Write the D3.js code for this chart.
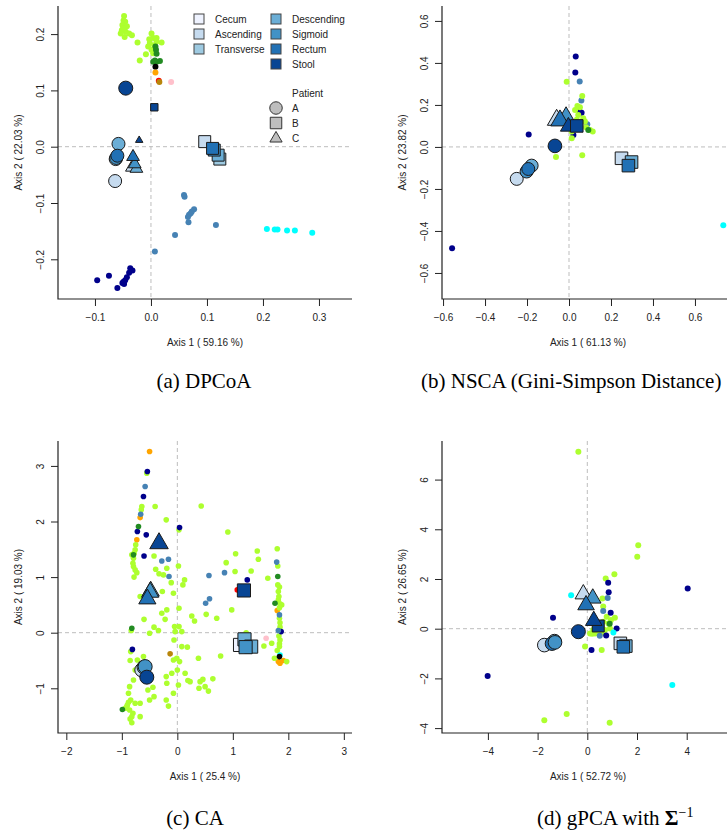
<!DOCTYPE html>
<html>
<head>
<meta charset="utf-8">
<title></title>
<style>
body { margin: 0; background: #fff; }
text { font-family: "Liberation Sans", Arial, sans-serif; font-size: 10px; fill: #222; }
.caption { font-family: "Liberation Serif", "Times New Roman", serif; font-size: 21px; fill: #000; }
.tick line { stroke: #222; }
</style>
</head>
<body>
<script src="https://d3js.org/d3.v7.min.js"></script>
<script>

// taxa colour groups (phylum)
var phylumCodes  = ["g", "n", "s", "c", "f", "k", "o", "r", "p", "d"];
var phylumColors = ["#ADFF2F", "#00008B", "#4682B4", "#00FFFF", "#228B22", "#000000", "#FFA500", "#FF0000", "#FFC0CB", "#B8860B"];

var sites = ["Cecum", "Ascending", "Transverse", "Descending", "Sigmoid", "Rectum", "Stool"];
var siteColors = ["#EFF3FF", "#C6DBEF", "#9ECAE1", "#6BAED6", "#4292C6", "#2171B5", "#084594"];
var patients = ["A", "B", "C"];

// (a) DPCoA : taxa [axis1, axis2, phylum]
var dpcoaTaxa = [
  [-0.048,0.232,"g"],[-0.049,0.224,"g"],[-0.046,0.222,"g"],[-0.051,0.216,"g"],[-0.043,0.214,"g"],
  [-0.052,0.207,"g"],[-0.045,0.204,"g"],[-0.054,0.201,"g"],[-0.039,0.201,"g"],[-0.034,0.198,"g"],
  [-0.024,0.185,"g"],[-0.020,0.153,"g"],[-0.050,0.210,"g"],[-0.047,0.195,"g"],
  [0.001,0.201,"g"],[0.004,0.193,"g"],[0.010,0.193,"g"],[-0.003,0.191,"g"],[0.010,0.187,"g"],
  [0.019,0.185,"g"],[-0.002,0.184,"g"],[-0.005,0.178,"g"],[0.001,0.172,"g"],[0.004,0.166,"g"],
  [-0.009,0.164,"g"],[0.006,0.180,"g"],
  [0.008,0.178,"f"],[0.009,0.172,"f"],[0.010,0.165,"f"],[0.004,0.151,"f"],[0.010,0.151,"f"],
  [0.016,0.152,"f"],[0.007,0.153,"f"],
  [0.008,0.142,"k"],[0.008,0.132,"o"],[0.014,0.117,"r"],[0.015,0.115,"d"],[0.036,0.115,"p"],
  [0.059,-0.086,"s"],[0.060,-0.089,"s"],[0.077,-0.111,"s"],[0.073,-0.115,"s"],[0.071,-0.118,"s"],
  [0.068,-0.121,"s"],[0.066,-0.125,"s"],[0.067,-0.134,"s"],[0.116,-0.139,"s"],[0.043,-0.157,"s"],
  [0.007,-0.186,"s"],
  [0.207,-0.146,"c"],[0.221,-0.147,"c"],[0.226,-0.147,"c"],[0.243,-0.149,"c"],[0.257,-0.149,"c"],
  [0.288,-0.153,"c"],
  [-0.096,-0.237,"n"],[-0.075,-0.229,"n"],[-0.060,-0.251,"n"],[-0.051,-0.242,"n"],[-0.046,-0.237,"n"],
  [-0.043,-0.232,"n"],[-0.039,-0.224,"n"],[-0.037,-0.216,"n"],[-0.033,-0.220,"n"],[-0.048,-0.244,"n"],
  [-0.049,-0.240,"n"]
];
// samples [axis1, axis2, site, patient, weight]
var dpcoaSamples = [
  [-0.063,-0.022,"Transverse","A",1],[-0.064,-0.061,"Ascending","A",1],[-0.058,0.005,"Descending","A",1],
  [-0.062,-0.020,"Sigmoid","A",1],[-0.060,-0.016,"Rectum","A",1],[-0.045,0.104,"Stool","A",1.08],
  [-0.034,-0.036,"Ascending","C",1],[-0.026,-0.038,"Descending","C",1],[-0.029,-0.030,"Sigmoid","C",1],
  [-0.032,-0.017,"Rectum","C",1],[-0.021,0.012,"Stool","C",0.58],
  [0.096,0.009,"Ascending","B",1],[0.123,-0.022,"Transverse","B",1],[0.120,-0.015,"Descending","B",1],
  [0.113,-0.006,"Sigmoid","B",1],[0.110,-0.003,"Rectum","B",1],[0.006,0.070,"Stool","B",0.62]
];

// (b) NSCA
var nscaTaxa = [
  [0.032,0.430,"n"],[0.030,0.354,"n"],[-0.192,0.059,"n"],[-0.557,-0.482,"n"],[0.049,0.173,"n"],
  [0.060,0.163,"n"],[0.021,0.057,"n"],
  [0.051,0.311,"s"],[0.059,0.221,"s"],[0.087,0.108,"s"],
  [-0.011,0.310,"g"],[0.063,0.243,"g"],[0.040,0.195,"g"],[0.052,0.189,"g"],[0.029,0.176,"g"],
  [0.044,0.152,"g"],[0.068,0.137,"g"],[0.076,0.121,"g"],[0.081,0.094,"g"],[0.113,0.073,"g"],
  [0.013,0.041,"g"],[-0.062,-0.048,"g"],[0.063,-0.040,"g"],[0.037,0.129,"g"],[0.021,0.097,"g"],
  [0.013,0.073,"g"],[0.100,0.081,"g"],[0.055,0.110,"g"],[0.030,0.085,"g"],
  [0.092,0.081,"f"],[0.735,-0.373,"c"]
];
var nscaSamples = [
  [-0.249,-0.152,"Ascending","A",1],[-0.178,-0.089,"Descending","A",1],[-0.202,-0.117,"Sigmoid","A",1],
  [-0.194,-0.105,"Rectum","A",1],[-0.067,0.005,"Stool","A",1.05],
  [-0.059,0.132,"Ascending","C",1.45],[-0.014,0.144,"Sigmoid","C",1.45],[-0.043,0.129,"Rectum","C",1.45],
  [-0.003,0.100,"Stool","C",1.25],
  [0.250,-0.054,"Ascending","B",1.05],[0.298,-0.072,"Descending","B",1.05],[0.283,-0.089,"Rectum","B",1.05],
  [0.037,0.100,"Stool","B",1.05]
];

// (c) CA
var caTaxa = [
  [-0.50,3.26,"o"],[-0.67,2.07,"o"],[-0.73,1.67,"o"],[1.80,0.40,"o"],[1.82,-0.52,"o"],[1.91,-0.50,"o"],[1.85,-0.55,"o"],
  [-0.55,2.87,"g"],[-0.40,2.27,"g"],[-0.64,2.27,"g"],[-0.65,2.21,"g"],[-0.20,2.03,"g"],[0.03,1.85,"g"],
  [-0.75,1.58,"g"],[-0.76,1.49,"g"],[-0.78,1.43,"g"],[-0.82,1.40,"g"],[-0.79,1.34,"g"],[-0.80,1.25,"g"],
  [-0.79,1.19,"g"],[-0.76,1.13,"g"],[-0.73,1.08,"g"],[-0.78,1.00,"g"],[-0.42,1.38,"g"],[-0.39,1.14,"g"],
  [-0.33,1.06,"g"],[-0.25,1.04,"g"],[-0.19,1.16,"g"],[-0.11,0.90,"g"],[0.02,1.20,"g"],[0.13,0.95,"g"],
  [0.10,0.86,"g"],[-0.07,0.71,"g"],[-0.27,0.74,"g"],[-0.28,0.35,"g"],[-0.19,0.41,"g"],[-0.22,0.24,"g"],
  [-0.60,0.24,"g"],[-0.42,0.10,"g"],[-0.34,0.04,"g"],[-0.50,-0.01,"g"],[-0.05,0.11,"g"],[-0.04,0.02,"g"],
  [0.08,0.02,"g"],[-0.06,-0.13,"g"],[0.03,0.11,"g"],[0.08,-0.25,"g"],[0.18,-0.26,"g"],[0.26,0.30,"g"],
  [0.31,0.21,"g"],[-0.67,0.65,"g"],[-0.83,0.04,"g"],[-0.84,-0.34,"g"],[0.03,0.44,"g"],
  [-0.85,-0.50,"g"],[-0.72,-0.49,"g"],[-0.61,-0.43,"g"],[-0.52,-0.60,"g"],[-0.76,-0.67,"g"],[-0.79,-0.85,"g"],
  [-0.86,-0.97,"g"],[-0.88,-1.09,"g"],[-0.84,-1.21,"g"],[-0.91,-1.33,"g"],[-0.86,-1.39,"g"],[-0.82,-1.51,"g"],
  [-0.82,-1.62,"g"],[-0.94,-1.36,"g"],[-0.76,-1.27,"g"],[-0.67,-1.27,"g"],[-0.67,-1.51,"g"],[-0.50,-1.21,"g"],
  [-0.42,-1.15,"g"],[-0.53,-1.03,"g"],[-0.44,-0.98,"g"],[-0.20,-0.79,"g"],[-0.10,-0.73,"g"],[-0.07,-0.49,"g"],
  [-0.01,-0.46,"g"],[0.04,-0.52,"g"],[-0.19,-0.91,"g"],[-0.07,-1.09,"g"],[-0.20,-1.21,"g"],[-0.16,-1.32,"g"],
  [0.00,-0.67,"g"],[0.02,-0.94,"g"],[0.14,-0.73,"g"],[0.19,-0.86,"g"],[0.38,-0.46,"g"],[0.39,-1.00,"g"],
  [-0.88,-1.25,"g"],[-0.90,-1.30,"g"],[-0.80,-1.45,"g"],[-0.85,-1.55,"g"],
  [0.43,2.28,"g"],[0.91,1.81,"g"],[1.05,1.42,"g"],[1.44,1.47,"g"],[1.46,1.32,"g"],[0.88,1.26,"g"],
  [1.04,1.10,"g"],[1.33,1.11,"g"],[1.63,0.98,"g"],[0.98,0.41,"g"],[0.71,0.26,"g"],[0.52,0.33,"g"],
  [1.24,0.00,"g"],[1.56,-0.24,"g"],[1.70,-0.19,"g"],[0.78,-0.42,"g"],[0.64,-0.83,"g"],[0.46,-0.84,"g"],
  [0.41,-0.88,"g"],[0.50,-0.97,"g"],[0.56,-1.05,"g"],[0.23,-0.88,"g"],
  [1.80,1.51,"g"],[1.81,1.20,"g"],[1.81,0.86,"g"],[1.84,0.82,"g"],[1.82,0.74,"g"],[1.82,0.59,"g"],
  [1.85,0.52,"g"],[1.88,0.50,"g"],[1.84,0.26,"g"],[1.85,0.18,"g"],[1.83,-0.06,"g"],[1.85,-0.13,"g"],
  [1.84,-0.20,"g"],[1.80,-0.32,"g"],[1.75,-0.46,"g"],[1.97,-0.52,"g"],[1.83,0.65,"g"],[1.84,0.45,"g"],
  [1.85,0.10,"g"],[1.84,-0.25,"g"],
  [-0.54,2.90,"n"],[-0.61,2.45,"n"],[0.04,1.89,"n"],[-0.72,1.82,"n"],[-0.56,1.76,"n"],[-0.60,1.38,"n"],
  [-0.81,-0.30,"n"],[1.26,0.95,"n"],[1.87,0.02,"n"],
  [-0.58,2.63,"s"],[-0.66,2.13,"s"],[-0.28,1.29,"s"],[-0.16,1.32,"s"],[-0.15,1.01,"s"],[0.57,1.03,"s"],
  [0.85,1.08,"s"],[0.58,0.61,"s"],[0.51,0.53,"s"],[1.79,1.27,"s"],[1.84,0.32,"s"],[1.82,0.04,"s"],
  [-0.70,1.91,"f"],[-0.79,1.40,"f"],[-0.82,0.08,"f"],[-0.99,-1.38,"f"],[1.81,1.01,"f"],[1.76,0.53,"f"],
  [-0.13,-0.38,"d"],[1.08,0.77,"r"],[1.60,-0.10,"p"],[1.85,-0.40,"c"],[1.84,-0.43,"k"]
];
var caSamples = [
  [-0.33,1.62,"Stool","C",1.45],[-0.48,0.76,"Descending","C",1.35],[-0.49,0.74,"Sigmoid","C",1.35],
  [-0.54,0.62,"Rectum","C",1.35],
  [-0.64,-0.67,"Ascending","A",1.08],[-0.60,-0.62,"Descending","A",1.08],[-0.58,-0.61,"Sigmoid","A",1.08],
  [-0.55,-0.80,"Stool","A",1.08],
  [1.20,0.76,"Stool","B",1.1],[1.13,-0.22,"Cecum","B",1.1],[1.21,-0.12,"Descending","B",1.1],
  [1.33,-0.25,"Descending","B",1.1],[1.23,-0.26,"Sigmoid","B",1.1]
];

// (d) gPCA
var gpcaTaxa = [
  [-0.36,7.12,"g"],[2.05,3.36,"g"],[2.01,2.90,"g"],[1.09,2.19,"g"],[0.74,2.02,"g"],[1.11,0.44,"g"],
  [-1.73,-3.68,"g"],[-0.83,-3.43,"g"],[0.90,-3.78,"g"],[-0.09,-0.72,"g"],[0.58,-0.86,"g"],[0.61,1.22,"g"],
  [0.64,0.89,"g"],[0.31,0.28,"g"],[0.44,0.21,"g"],[0.64,0.28,"g"],[0.85,0.21,"g"],[0.24,-0.05,"g"],
  [0.44,-0.12,"g"],[0.71,-0.05,"g"],[0.91,0.01,"g"],[0.11,-0.19,"g"],[0.78,0.48,"g"],[0.31,-0.19,"g"],
  [0.58,0.08,"g"],[0.20,-0.20,"g"],[0.50,-0.20,"g"],[0.65,-0.15,"g"],[0.95,0.35,"g"],
  [0.84,1.85,"n"],[0.86,1.47,"n"],[4.04,1.62,"n"],[-1.38,0.44,"n"],[-4.01,-1.90,"n"],[0.17,-0.86,"n"],
  [0.94,0.64,"n"],[1.18,0.01,"n"],[0.76,-0.27,"n"],
  [0.82,1.24,"s"],[0.50,-0.28,"s"],[0.64,0.71,"s"],
  [-0.65,1.35,"c"],[3.42,-2.27,"c"],[1.05,-0.15,"c"],[0.90,0.20,"f"]
];
var gpcaSamples = [
  [-1.73,-0.66,"Ascending","A",1.05],[-1.32,-0.50,"Descending","A",1.05],[-1.42,-0.60,"Rectum","A",1.05],
  [-1.30,-0.55,"Sigmoid","A",1.05],[-0.36,-0.12,"Stool","A",1.08],
  [1.33,-0.59,"Ascending","B",1.05],[1.55,-0.70,"Descending","B",1.05],[1.45,-0.73,"Rectum","B",1.05],
  [0.44,0.11,"Stool","B",1.0],
  [-0.16,1.42,"Ascending","C",1.3],[0.22,1.25,"Sigmoid","C",1.3],[-0.05,0.98,"Rectum","C",1.3],
  [0.26,0.35,"Stool","C",1.3]
];

var axisTitles = [
  ["Axis 1 ( 59.16 %)", "Axis 2 ( 22.03 %)"],
  ["Axis 1 ( 61.13 %)", "Axis 2 ( 23.82 %)"],
  ["Axis 1 ( 25.4 %)",  "Axis 2 ( 19.03 %)"],
  ["Axis 1 ( 52.72 %)", "Axis 2 ( 26.65 %)"]
];

var width = 727, height = 833;

var svg = d3.select("body").append("svg")
    .attr("width", width)
    .attr("height", height);

var phylumColor = d3.scaleOrdinal().domain(phylumCodes).range(phylumColors);
var siteColor = d3.scaleOrdinal().domain(sites).range(siteColors);

function markerPath(shape, d) {
  if (shape == "A") {
    var r = d / 2;
    return "M" + r + ",0A" + r + "," + r + " 0 1,1 " + (-r) + ",0A" + r + "," + r + " 0 1,1 " + r + ",0Z";
  } else if (shape == "B") {
    var h = d * 0.46;
    return "M" + (-h) + "," + (-h) + "H" + h + "V" + h + "H" + (-h) + "Z";
  } else {
    var s = d * 0.98, th = s * 0.866;
    return "M0," + (-th * 0.62) + "L" + (s / 2) + "," + (th * 0.38) + "L" + (-s / 2) + "," + (th * 0.38) + "Z";
  }
}

var panels = [
  {id: "a", taxa: dpcoaTaxa, samples: dpcoaSamples, box: [58, 352, 6, 299],
   xdom: [-0.166, 0.359], ydom: [-0.2705, 0.2499],
   xticks: [-0.1, 0, 0.1, 0.2, 0.3], yticks: [-0.2, -0.1, 0, 0.1, 0.2], fmt: ".1f", dot: 3},
  {id: "b", taxa: nscaTaxa, samples: nscaSamples, box: [442, 734, 6, 299],
   xdom: [-0.605, 0.786], ydom: [-0.724, 0.671],
   xticks: [-0.6, -0.4, -0.2, 0, 0.2, 0.4, 0.6], yticks: [-0.6, -0.4, -0.2, 0, 0.2, 0.4, 0.6], fmt: ".1f", dot: 3},
  {id: "c", taxa: caTaxa, samples: caSamples, box: [58, 352, 441, 733],
   xdom: [-2.150, 3.147], ydom: [-1.804, 3.448],
   xticks: [-2, -1, 0, 1, 2, 3], yticks: [-1, 0, 1, 2, 3], fmt: "d", dot: 2.8},
  {id: "d", taxa: gpcaTaxa, samples: gpcaSamples, box: [442, 734, 441, 733],
   xdom: [-5.847, 5.903], ydom: [-4.197, 7.553],
   xticks: [-4, -2, 0, 2, 4], yticks: [-4, -2, 0, 2, 4, 6], fmt: "d", dot: 3}
];

panels.forEach(function(p, i) {
  var x = d3.scaleLinear().domain(p.xdom).range([p.box[0], p.box[1]]);
  var y = d3.scaleLinear().domain(p.ydom).range([p.box[3], p.box[2]]);
  var fmt = function(v) { return d3.format(p.fmt)(v).replace("-", "\u2212"); };

  var g = svg.append("g").attr("class", "panel-" + p.id);

  g.append("clipPath").attr("id", "clip-" + p.id)
    .append("rect")
      .attr("x", p.box[0]).attr("y", p.box[2])
      .attr("width", p.box[1] - p.box[0]).attr("height", p.box[3] - p.box[2]);

  // zero reference lines
  g.append("line")
      .attr("x1", x(0)).attr("x2", x(0)).attr("y1", p.box[2]).attr("y2", p.box[3])
      .style("stroke", "#bdbdbd").style("stroke-dasharray", "4,3");
  g.append("line")
      .attr("x1", p.box[0]).attr("x2", p.box[1]).attr("y1", y(0)).attr("y2", y(0))
      .style("stroke", "#bdbdbd").style("stroke-dasharray", "4,3");

  // axes
  var xa = g.append("g")
      .attr("transform", "translate(0," + p.box[3] + ")")
      .call(d3.axisBottom(x).tickValues(p.xticks).tickFormat(fmt).tickSize(7).tickPadding(8));
  xa.select(".domain").remove();

  var ya = g.append("g")
      .attr("transform", "translate(" + p.box[0] + ",0)")
      .call(d3.axisLeft(y).tickValues(p.yticks).tickFormat(fmt).tickSize(7));
  ya.select(".domain").remove();
  ya.selectAll("text")
      .attr("transform", "rotate(-90)")
      .attr("x", 0).attr("y", -18).attr("dy", "0.35em")
      .style("text-anchor", "middle");
  g.selectAll(".tick text").style("font-size", "10px").style("fill", "#222")
      .style("font-family", "'Liberation Sans', Arial, sans-serif");

  g.append("path")
      .attr("d", "M" + p.box[0] + "," + p.box[2] + "V" + p.box[3] + "H" + p.box[1])
      .style("fill", "none").style("stroke", "#222").style("stroke-width", 1.2);

  g.append("text")
      .attr("x", (p.box[0] + p.box[1]) / 2).attr("y", p.box[3] + 47)
      .attr("text-anchor", "middle")
      .text(axisTitles[i][0]);
  g.append("text")
      .attr("transform", "translate(" + (p.box[0] - 40) + "," + ((p.box[2] + p.box[3]) / 2) + ")rotate(-90)")
      .attr("dy", "0.35em")
      .attr("text-anchor", "middle")
      .text(axisTitles[i][1]);

  var marks = g.append("g").attr("clip-path", "url(#clip-" + p.id + ")");

  marks.selectAll("circle.taxon")
      .data(p.taxa)
      .enter().append("circle")
      .attr("class", "taxon")
      .attr("cx", function(d) { return x(d[0]); })
      .attr("cy", function(d) { return y(d[1]); })
      .attr("r", p.dot)
      .style("fill", function(d) { return phylumColor(d[2]); });

  marks.selectAll("path.sample")
      .data(p.samples)
      .enter().append("path")
      .attr("class", "sample")
      .attr("transform", function(d) { return "translate(" + x(d[0]) + "," + y(d[1]) + ")"; })
      .attr("d", function(d) { return markerPath(d[3], 13 * d[4]); })
      .style("fill", function(d) { return siteColor(d[2]); })
      .style("stroke", "#1a1a1a")
      .style("stroke-width", 1);
});

// legend in panel (a)
var legend = svg.append("g").attr("class", "legend");
var legendItems = legend.selectAll("g.site")
    .data(sites)
    .enter().append("g")
    .attr("class", "site")
    .attr("transform", function(d, i) {
      var col = i < 3 ? 0 : 1, row = i < 3 ? i : i - 3;
      return "translate(" + (199 + col * 77) + "," + (19 + row * 15) + ")";
    });
legendItems.append("rect")
    .attr("x", -5).attr("y", -5).attr("width", 10).attr("height", 10)
    .style("fill", function(d) { return siteColor(d); })
    .style("stroke", "#444");
legendItems.append("text")
    .attr("x", 16).attr("dy", "0.35em")
    .text(function(d) { return d; });

legend.append("text")
    .attr("x", 292).attr("y", 93).attr("dy", "0.35em")
    .text("Patient");
var patientItems = legend.selectAll("g.patient")
    .data(patients)
    .enter().append("g")
    .attr("class", "patient")
    .attr("transform", function(d, i) { return "translate(276," + (108 + i * 15) + ")"; });
patientItems.append("path")
    .attr("d", function(d) { return markerPath(d, 12.5); })
    .style("fill", "#BEBEBE")
    .style("stroke", "#333");
patientItems.append("text")
    .attr("x", 16).attr("dy", "0.35em")
    .text(function(d) { return d; });

// sub-figure captions
var captions = [
  {x: 204, y: 388, anchor: "middle", text: "(a) DPCoA"},
  {x: 421, y: 388, anchor: "start", text: "(b) NSCA (Gini-Simpson Distance)"},
  {x: 195, y: 825, anchor: "middle", text: "(c) CA"}
];
svg.selectAll("text.caption")
    .data(captions)
    .enter().append("text")
    .attr("class", "caption")
    .attr("x", function(d) { return d.x; })
    .attr("y", function(d) { return d.y; })
    .attr("text-anchor", function(d) { return d.anchor; })
    .text(function(d) { return d.text; });

var capD = svg.append("text").attr("class", "caption").attr("x", 537).attr("y", 825);
capD.append("tspan").text("(d) gPCA with ");
capD.append("tspan").style("font-weight", "bold").text("\u03A3");
capD.append("tspan").attr("dy", -8).style("font-size", "14px").text("\u22121");

</script>
</body>
</html>
